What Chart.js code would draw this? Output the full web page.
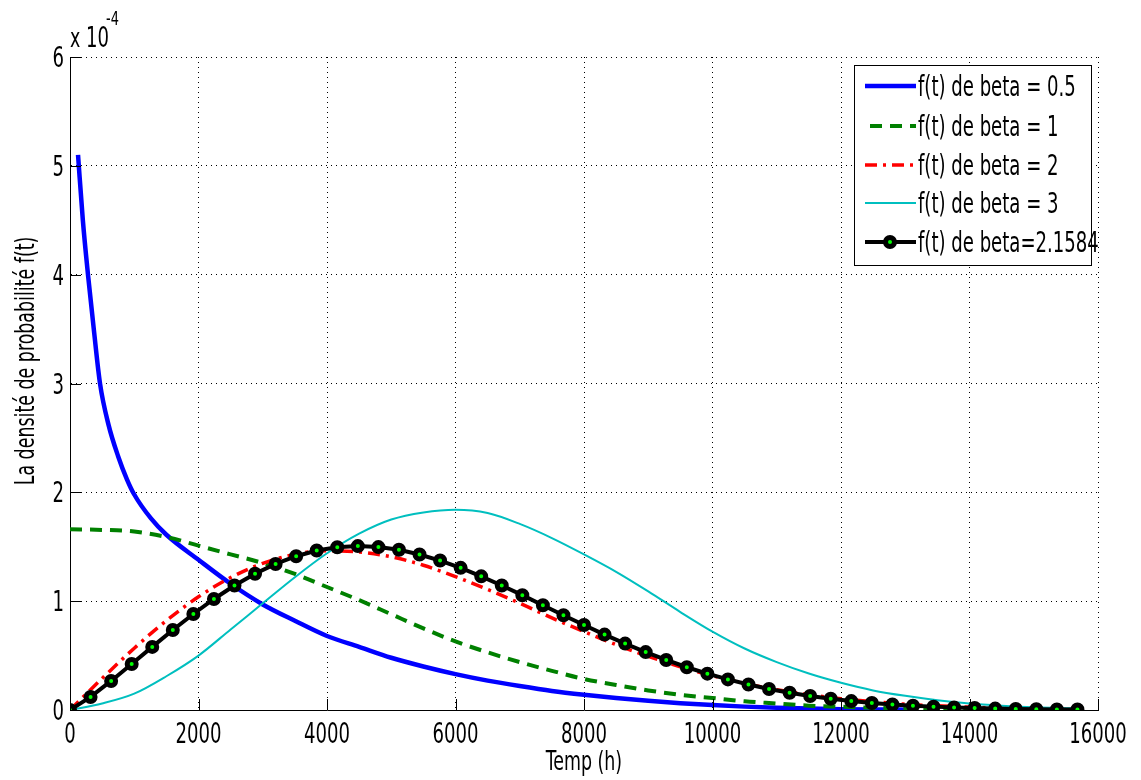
<!DOCTYPE html>
<html>
<head>
<meta charset="utf-8">
<script src="https://cdn.jsdelivr.net/npm/chart.js@4.4.0/dist/chart.umd.min.js"></script>
<style>
  html, body { margin: 0; padding: 0; background: #fff; }
</style>
</head>
<body>
<canvas id="myChart" width="1141" height="780"></canvas>
<script>
// f(t) values are in units of 1e-4 (axis multiplier "x 10^-4")
const xTicks = [0, 2000, 4000, 6000, 8000, 10000, 12000, 14000, 16000];
const yTicks = [0, 1, 2, 3, 4, 5, 6];

const seriesNames = ['f(t) de beta = 0.5', 'f(t) de beta = 1', 'f(t) de beta = 2', 'f(t) de beta = 3', 'f(t) de beta=2.1584'];

const tBlue = [125, 200, 280, 370, 467, 600, 750, 886, 1000, 1260, 1500, 2000, 2500, 3000, 3500, 4000, 4500, 5000,
  5500, 6000, 6500, 7000, 7500, 8000, 8500, 9000, 9500, 10000, 10500, 11000, 11500, 12000, 12500, 13000];
const fBlue = [5.10, 4.50, 4.00, 3.50, 3.00, 2.62, 2.33, 2.12, 1.98, 1.76, 1.61, 1.38, 1.16, 0.97, 0.82, 0.68, 0.58, 0.48,
  0.40, 0.33, 0.27, 0.22, 0.175, 0.14, 0.11, 0.085, 0.063, 0.045, 0.031, 0.021, 0.013, 0.008, 0.005, 0.003];

const tGreen = [0, 500, 1000, 1500, 2000, 2500, 3000, 3500, 4000, 4500, 5000, 5500, 6000, 6500, 7000, 7500, 8000,
  8500, 9000, 9500, 10000, 10500, 11000, 11500, 12000, 12500, 13000, 13500, 14000, 14500, 15000, 15600];
const fGreen = [1.66, 1.655, 1.64, 1.59, 1.51, 1.43, 1.35, 1.25, 1.13, 1.01, 0.88, 0.75, 0.63, 0.53, 0.44, 0.36, 0.285,
  0.23, 0.18, 0.14, 0.11, 0.08, 0.06, 0.04, 0.03, 0.02, 0.014, 0.01, 0.007, 0.005, 0.003, 0.002];

const tRed = [0, 500, 1000, 1500, 2000, 2500, 3000, 3500, 4000, 4500, 5000, 5500, 6000, 6500, 7000, 7500, 8000,
  8500, 9000, 9500, 10000, 10500, 11000, 11500, 12000, 12500, 13000, 13500, 14000, 14500, 15000, 15500];
const fRed = [0, 0.29, 0.568, 0.821, 1.040, 1.217, 1.348, 1.430, 1.464, 1.451, 1.408, 1.330, 1.225, 1.107, 0.981, 0.846, 0.721,
  0.600, 0.493, 0.397, 0.315, 0.245, 0.187, 0.141, 0.104, 0.076, 0.054, 0.038, 0.027, 0.018, 0.012, 0.008];

const tCyan = [0, 500, 1000, 1500, 2000, 2500, 3000, 3500, 4000, 4500, 5000, 5500, 6000, 6500, 7000, 7500, 8000,
  8500, 9000, 9500, 10000, 10500, 11000, 11500, 12000, 12500, 13000, 13500, 14000, 14500, 15000, 15600];
const fCyan = [0, 0.06, 0.15, 0.31, 0.50, 0.74, 0.98, 1.22, 1.44, 1.62, 1.75, 1.815, 1.84, 1.81, 1.71, 1.58, 1.43,
  1.27, 1.09, 0.90, 0.72, 0.565, 0.44, 0.335, 0.25, 0.18, 0.13, 0.09, 0.06, 0.04, 0.025, 0.015];

const tBlack = [0, 320, 640, 960, 1280, 1600, 1920, 2240, 2560, 2880, 3200, 3520, 3840, 4160, 4480, 4800, 5120,
  5440, 5760, 6080, 6400, 6720, 7040, 7360, 7680, 8000, 8320, 8640, 8960, 9280, 9600, 9920, 10240, 10560,
  10880, 11200, 11520, 11840, 12160, 12480, 12800, 13120, 13440, 13760, 14080, 14400, 14720, 15040, 15360, 15680];
const fBlack = [0, 0.120, 0.267, 0.422, 0.580, 0.735, 0.882, 1.020, 1.144, 1.252, 1.342, 1.413, 1.465, 1.495, 1.506, 1.497, 1.472,
  1.429, 1.373, 1.306, 1.228, 1.144, 1.055, 0.963, 0.871, 0.781, 0.693, 0.610, 0.532, 0.460, 0.393, 0.334, 0.281, 0.234,
  0.193, 0.158, 0.128, 0.103, 0.082, 0.065, 0.051, 0.040, 0.031, 0.023, 0.018, 0.013, 0.010, 0.007, 0.005, 0.004];

const FONT = "'Liberation Sans Narrow', 'DejaVu Sans Condensed', 'Liberation Sans', sans-serif";
let SX = 1;

function pts(ts, fs) {
  return ts.map((t, i) => ({ x: t, y: fs[i] }));
}

function txt(ctx, s, x, y, size, align) {
  ctx.save();
  ctx.font = size + 'px ' + FONT;
  ctx.textBaseline = 'alphabetic';
  ctx.textAlign = 'left';
  const w = ctx.measureText(s).width * SX;
  let x0 = x;
  if (align === 'center') x0 = x - w / 2;
  else if (align === 'right') x0 = x - w;
  ctx.translate(x0, y);
  ctx.scale(SX, 1);
  ctx.fillStyle = '#000';
  ctx.fillText(s, 0, 0);
  ctx.restore();
}

// ticks inside the axes, labels, titles and legend in the MATLAB look
const matlabLook = {
  id: 'matlabLook',
  afterDraw(chart) {
    const ctx = chart.ctx;
    const xs = chart.scales.x, ys = chart.scales.y;
    const a = chart.chartArea;
    ctx.font = '28px ' + FONT;
    SX = 46 / ctx.measureText('2000').width;

    ctx.save();
    ctx.strokeStyle = '#000';
    ctx.lineWidth = 1;
    ctx.beginPath();
    xTicks.forEach(v => {
      const p = Math.round(xs.getPixelForValue(v)) + 0.5;
      ctx.moveTo(p, a.bottom); ctx.lineTo(p, a.bottom - 11);
    });
    yTicks.forEach(v => {
      const p = Math.round(ys.getPixelForValue(v)) + 0.5;
      ctx.moveTo(a.left, p); ctx.lineTo(a.left + 11, p);
    });
    ctx.stroke();
    ctx.restore();

    xTicks.forEach(v => txt(ctx, String(v), xs.getPixelForValue(v), a.bottom + 33, 28, 'center'));
    yTicks.forEach(v => txt(ctx, String(v), a.left - 6, ys.getPixelForValue(v) + 10, 28, 'right'));

    txt(ctx, 'x', a.left, 47, 27, 'left');
    txt(ctx, '10', a.left + 16, 47, 28, 'left');
    txt(ctx, '-4', a.left + 36, 25, 20, 'left');

    txt(ctx, 'Temp (h)', (a.left + a.right) / 2, 770, 27, 'center');

    ctx.save();
    ctx.translate(34, 361);
    ctx.rotate(-Math.PI / 2);
    txt(ctx, 'La densité de probabilité f(t)', 0, 0, 27, 'center');
    ctx.restore();

    // legend
    const L = 854, T = 65, R = 1091, B = 265;
    ctx.save();
    ctx.fillStyle = '#fff';
    ctx.fillRect(L, T, R - L, B - T);
    ctx.strokeStyle = '#000';
    ctx.lineWidth = 1;
    ctx.strokeRect(L + 0.5, T + 0.5, R - L, B - T);
    ctx.restore();
    const rows = [86, 126, 165, 203, 242];
    chart.data.datasets.forEach((ds, i) => {
      const y = rows[i];
      ctx.save();
      ctx.strokeStyle = ds.borderColor;
      ctx.lineWidth = ds.borderWidth;
      ctx.setLineDash(ds.borderDash || []);
      ctx.beginPath();
      ctx.moveTo(i === 1 ? 870 : 865, y);
      ctx.lineTo(916, y);
      ctx.stroke();
      if (ds.pointRadius > 0) {
        ctx.setLineDash([]);
        ctx.beginPath();
        ctx.arc(890, y, ds.pointRadius, 0, Math.PI * 2);
        ctx.fillStyle = ds.pointBackgroundColor;
        ctx.fill();
        ctx.lineWidth = ds.pointBorderWidth;
        ctx.strokeStyle = ds.pointBorderColor;
        ctx.stroke();
      }
      ctx.restore();
      txt(ctx, ds.label, 918, y + 10, 28, 'left');
    });
  }
};

const ctx = document.getElementById('myChart').getContext('2d');
const chart = new Chart(ctx, {
  type: 'line',
  data: {
    datasets: [
      { label: seriesNames[0], data: pts(tBlue, fBlue), borderColor: '#0000ff', borderWidth: 4.5,
        pointRadius: 0, cubicInterpolationMode: 'monotone', order: 5 },
      { label: seriesNames[1], data: pts(tGreen, fGreen), borderColor: '#008000', borderWidth: 4,
        borderDash: [12, 8], pointRadius: 0, cubicInterpolationMode: 'monotone', order: 4 },
      { label: seriesNames[2], data: pts(tRed, fRed), borderColor: '#ff0000', borderWidth: 3.5,
        borderDash: [12, 6, 3, 6], pointRadius: 0, cubicInterpolationMode: 'monotone', order: 3 },
      { label: seriesNames[3], data: pts(tCyan, fCyan), borderColor: '#00bfbf', borderWidth: 2,
        pointRadius: 0, cubicInterpolationMode: 'monotone', order: 2 },
      { label: seriesNames[4], data: pts(tBlack, fBlack), borderColor: '#000000', borderWidth: 4,
        pointRadius: 4.5, pointBorderWidth: 5, pointBorderColor: '#000000', pointBackgroundColor: '#00ff00',
        order: 1 }
    ]
  },
  options: {
    responsive: false,
    animation: false,
    layout: { padding: { left: 70, right: 43, top: 57, bottom: 70 } },
    plugins: { legend: { display: false }, tooltip: { enabled: false } },
    scales: {
      x: {
        type: 'linear', min: 0, max: 16000,
        afterBuildTicks: s => { s.ticks = xTicks.map(v => ({ value: v })); },
        ticks: { display: false },
        grid: { color: '#000', lineWidth: 1, drawTicks: false, tickLength: 0 },
        border: { display: true, color: '#000', width: 1, dash: [1, 4] }
      },
      y: {
        type: 'linear', min: 0, max: 6,
        afterBuildTicks: s => { s.ticks = yTicks.map(v => ({ value: v })); },
        ticks: { display: false },
        grid: { color: '#000', lineWidth: 1, drawTicks: false, tickLength: 0 },
        border: { display: true, color: '#000', width: 1, dash: [1, 4] }
      }
    }
  },
  plugins: [matlabLook]
});
</script>
</body>
</html>
